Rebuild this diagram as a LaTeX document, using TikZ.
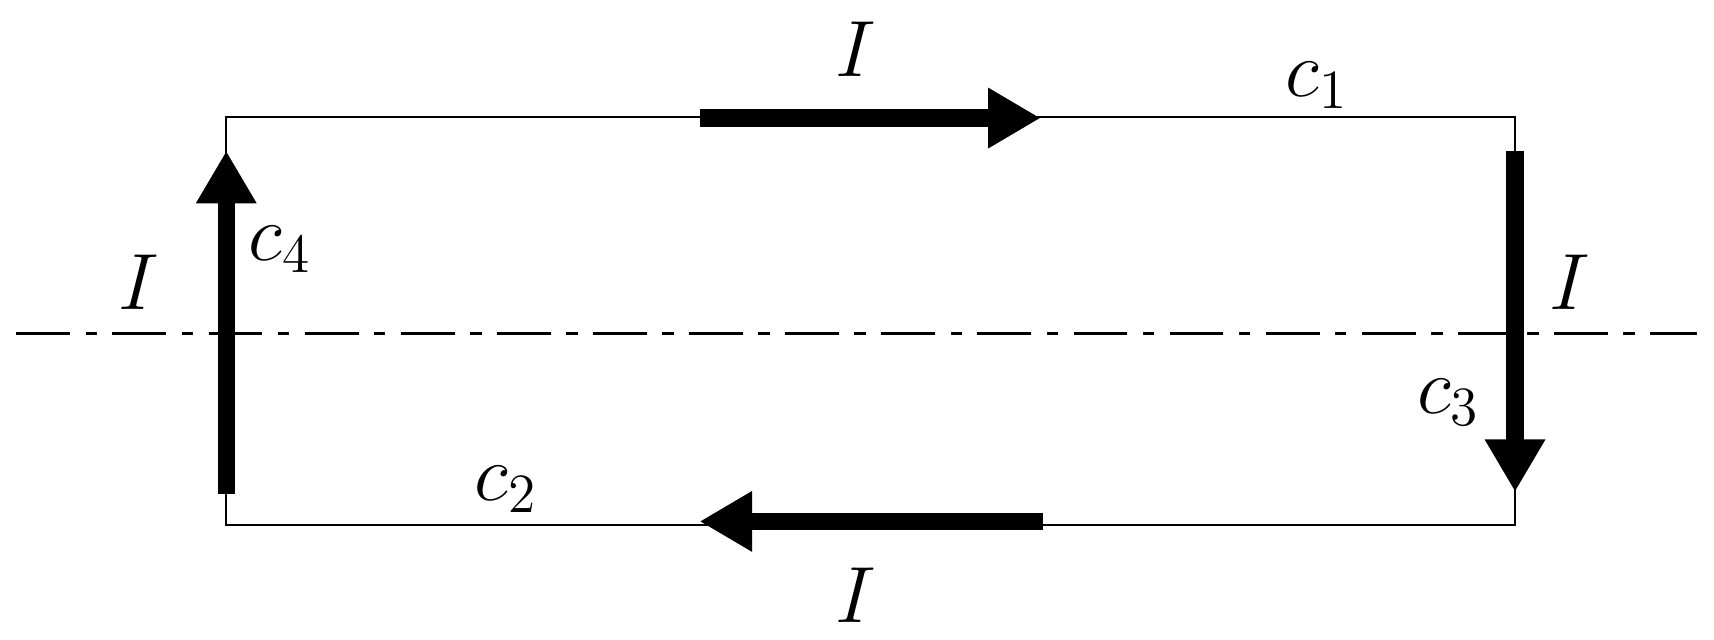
\documentclass[tikz,border=0pt]{standalone}
\usetikzlibrary{arrows.meta}
\begin{document}
\begin{tikzpicture}[x=0.01cm,y=-0.01cm,
  cur/.style={line width=0.16cm,-{Triangle[length=0.48cm,width=0.52cm]}},
  wire/.style={line width=0.6pt},
  lab/.style={inner sep=0pt,font=\fontsize{22}{26}\selectfont}]
\useasboundingbox (0,0) rectangle (1568,585);
\coordinate (A) at (207,107);
\coordinate (B) at (1386,107);
\coordinate (C) at (1386,480);
\coordinate (D) at (207,480);
\draw[wire] (A) -- (B) -- (C) -- (D) -- cycle;
\coordinate (ax1) at (15,305);
\coordinate (ax2) at (1552,305);
\draw[line width=0.6pt,dash pattern=on 14pt off 4pt on 3pt off 4pt] (ax1) -- (ax2);
\coordinate (t1) at (640,108); \coordinate (t2) at (952,108);
\coordinate (r1) at (1386,138); \coordinate (r2) at (1386,450);
\coordinate (b1) at (954,477); \coordinate (b2) at (640,477);
\coordinate (l1) at (207,452); \coordinate (l2) at (207,138);
\draw[cur] (t1) -- (t2);
\draw[cur] (r1) -- (r2);
\draw[cur] (b1) -- (b2);
\draw[cur] (l1) -- (l2);
\node[lab] (i1) at (783,45) {$I$};
\node[lab] (i2) at (1436,258) {$I$};
\node[lab] (i3) at (783,545) {$I$};
\node[lab] (i4) at (127,258) {$I$};
\node[lab] (c1) at (1205,78) {$c_1$};
\node[lab] (c2) at (463,448) {$c_2$};
\node[lab] (c3) at (1325,368) {$c_3$};
\node[lab] (c4) at (256,228) {$c_4$};
\end{tikzpicture}
\end{document}
